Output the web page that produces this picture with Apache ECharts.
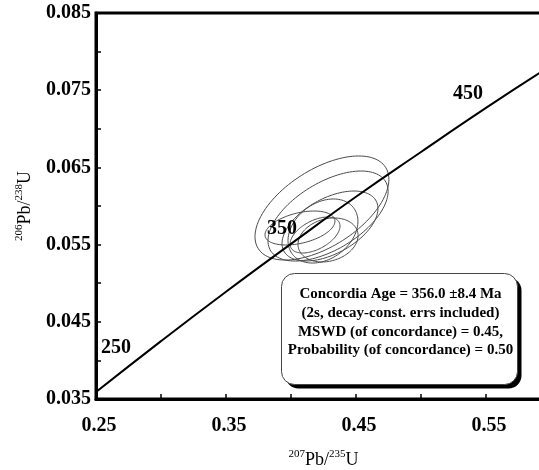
<!DOCTYPE html>
<html>
<head>
<meta charset="utf-8">
<script src="https://cdn.jsdelivr.net/npm/echarts@6/dist/echarts.min.js"></script>
<style>
  html, body { margin: 0; padding: 0; background: #fff; }
  #chart { width: 539px; height: 470px; }
</style>
</head>
<body>
<div id="chart"></div>
<script>
// Concordia curve, 207Pb/235U vs 206Pb/238U
const concordiaX = [0.25, 0.30, 0.35, 0.40, 0.45, 0.50, 0.55, 0.591];
const concordiaY = [0.0359, 0.0425, 0.0489, 0.0551, 0.0612, 0.0670, 0.0727, 0.0772];

// Age labels along the curve (Ma) and where they sit
const ageLabels = ['250', '350', '450'];
const ageLabelX = [0.2654, 0.3931, 0.5362];
const ageLabelY = [0.0416, 0.0570, 0.0745];

// Analyses: 207/235, 206/238, 2s errors and error correlation
const ellX   = [0.4238, 0.4285, 0.4300, 0.4069, 0.4246, 0.4285, 0.4185];
const ellY   = [0.05974, 0.05870, 0.05741, 0.05715, 0.05676, 0.05560, 0.05624];
const ellSX  = [0.0515, 0.0462, 0.0369, 0.0269, 0.0269, 0.0231, 0.0192];
const ellSY  = [0.00674, 0.00583, 0.00453, 0.0022, 0.00415, 0.00285, 0.00233];
const ellRho = [0.55, 0.55, 0.50, 0.40, 0.30, 0.20, 0.50];

// Axis ticks
const xTicks = ['0.25', '0.35', '0.45', '0.55'];
const yTicks = ['0.035', '0.045', '0.055', '0.065', '0.075', '0.085'];

const resultLines = [
  'Concordia Age = 356.0 \u00b18.4 Ma',
  '(2s, decay-const. errs included)',
  'MSWD (of concordance) = 0.45,',
  'Probability (of concordance) = 0.50'
];

const SERIF = '"Liberation Serif", "Times New Roman", serif';

const chart = echarts.init(document.getElementById('chart'), null, { renderer: 'canvas' });

const curveData = concordiaX.map((x, i) => [x, concordiaY[i]]);
const labelData = ageLabels.map((t, i) => ({ value: [ageLabelX[i], ageLabelY[i]], name: t }));
const ellipseData = ellX.map((x, i) => [x, ellY[i], ellSX[i], ellSY[i], ellRho[i]]);

function tickText(list, v, digits) {
  const s = v.toFixed(digits);
  return list.indexOf(s) >= 0 ? s : '';
}

const supRich = {
  n: { fontFamily: SERIF, fontSize: 18, color: '#000', verticalAlign: 'bottom', lineHeight: 20 },
  s: { fontFamily: SERIF, fontSize: 11, color: '#000', verticalAlign: 'top', lineHeight: 20 }
};

chart.setOption({
  animation: false,
  backgroundColor: '#fff',
  grid: {
    left: 96, top: 13, width: 455, height: 386,
    outerBoundsMode: 'none', containLabel: false,
    show: true, borderColor: '#000', borderWidth: 3, backgroundColor: 'transparent'
  },
  xAxis: {
    type: 'value', min: 0.25, max: 0.60, interval: 0.05,
    name: '{s|207}{n|Pb/}{s|235}{n|U}',
    nameLocation: 'middle', nameGap: 50,
    nameTextStyle: { rich: supRich },
    axisLine: { show: true, onZero: false, lineStyle: { color: '#000', width: 3 } },
    axisTick: { show: true, inside: true, length: 5, lineStyle: { color: '#000', width: 1.5 } },
    splitLine: { show: false },
    axisLabel: {
      margin: 17, padding: [0, 0, 0, 6],
      fontFamily: SERIF, fontSize: 20, fontWeight: 'bold', color: '#000',
      formatter: v => tickText(xTicks, v, 2)
    }
  },
  yAxis: {
    type: 'value', min: 0.035, max: 0.085, interval: 0.005,
    name: '{s|206}{n|Pb/}{s|238}{n|U}',
    nameLocation: 'middle', nameGap: 62, nameRotate: 90,
    nameTextStyle: { rich: supRich },
    axisLine: { show: true, onZero: false, lineStyle: { color: '#000', width: 3 } },
    axisTick: { show: true, inside: true, length: 5, lineStyle: { color: '#000', width: 1.5 } },
    splitLine: { show: false },
    axisLabel: {
      margin: 5,
      fontFamily: SERIF, fontSize: 20, fontWeight: 'bold', color: '#000',
      formatter: v => tickText(yTicks, v, 3)
    }
  },
  series: [
    {
      type: 'custom',
      name: 'ellipses',
      clip: true,
      data: ellipseData,
      renderItem: function (params, api) {
        const cx = api.value(0), cy = api.value(1);
        const sx = api.value(2), sy = api.value(3), r = api.value(4);
        const q = Math.sqrt(1 - r * r);
        const pts = [];
        for (let k = 0; k <= 120; k++) {
          const t = k / 120 * Math.PI * 2;
          const c = Math.cos(t), s = Math.sin(t);
          pts.push(api.coord([cx + sx * c, cy + sy * (r * c + q * s)]));
        }
        return {
          type: 'polygon',
          shape: { points: pts },
          style: { fill: 'none', stroke: '#4a4a4a', lineWidth: 1 }
        };
      },
      z: 2
    },
    {
      type: 'line',
      name: 'concordia',
      data: curveData,
      smooth: true,
      showSymbol: false,
      lineStyle: { color: '#000', width: 2 },
      clip: true,
      z: 3
    },
    {
      type: 'scatter',
      name: 'ages',
      data: labelData,
      symbolSize: 0,
      itemStyle: { opacity: 1 },
      label: {
        show: true, position: 'inside', opacity: 1,
        formatter: p => p.name,
        fontFamily: SERIF, fontSize: 20, fontWeight: 'bold', color: '#000'
      },
      z: 4
    }
  ],
  graphic: [
    {
      type: 'group', left: 281, top: 273, z: 10,
      children: [
        { type: 'rect', shape: { x: 4, y: 4, width: 236, height: 111, r: 13 }, style: { fill: '#000' } },
        { type: 'rect', shape: { x: 0, y: 0, width: 236, height: 111, r: 13 }, style: { fill: '#fff', stroke: '#444', lineWidth: 1 } },
        {
          type: 'text', x: 119, y: 49,
          style: {
            text: resultLines.join('\n'),
            fontFamily: SERIF, fontSize: 15, fontWeight: 'bold', fill: '#000',
            align: 'center', verticalAlign: 'middle', lineHeight: 18.7
          }
        }
      ]
    }
  ]
});
</script>
</body>
</html>
